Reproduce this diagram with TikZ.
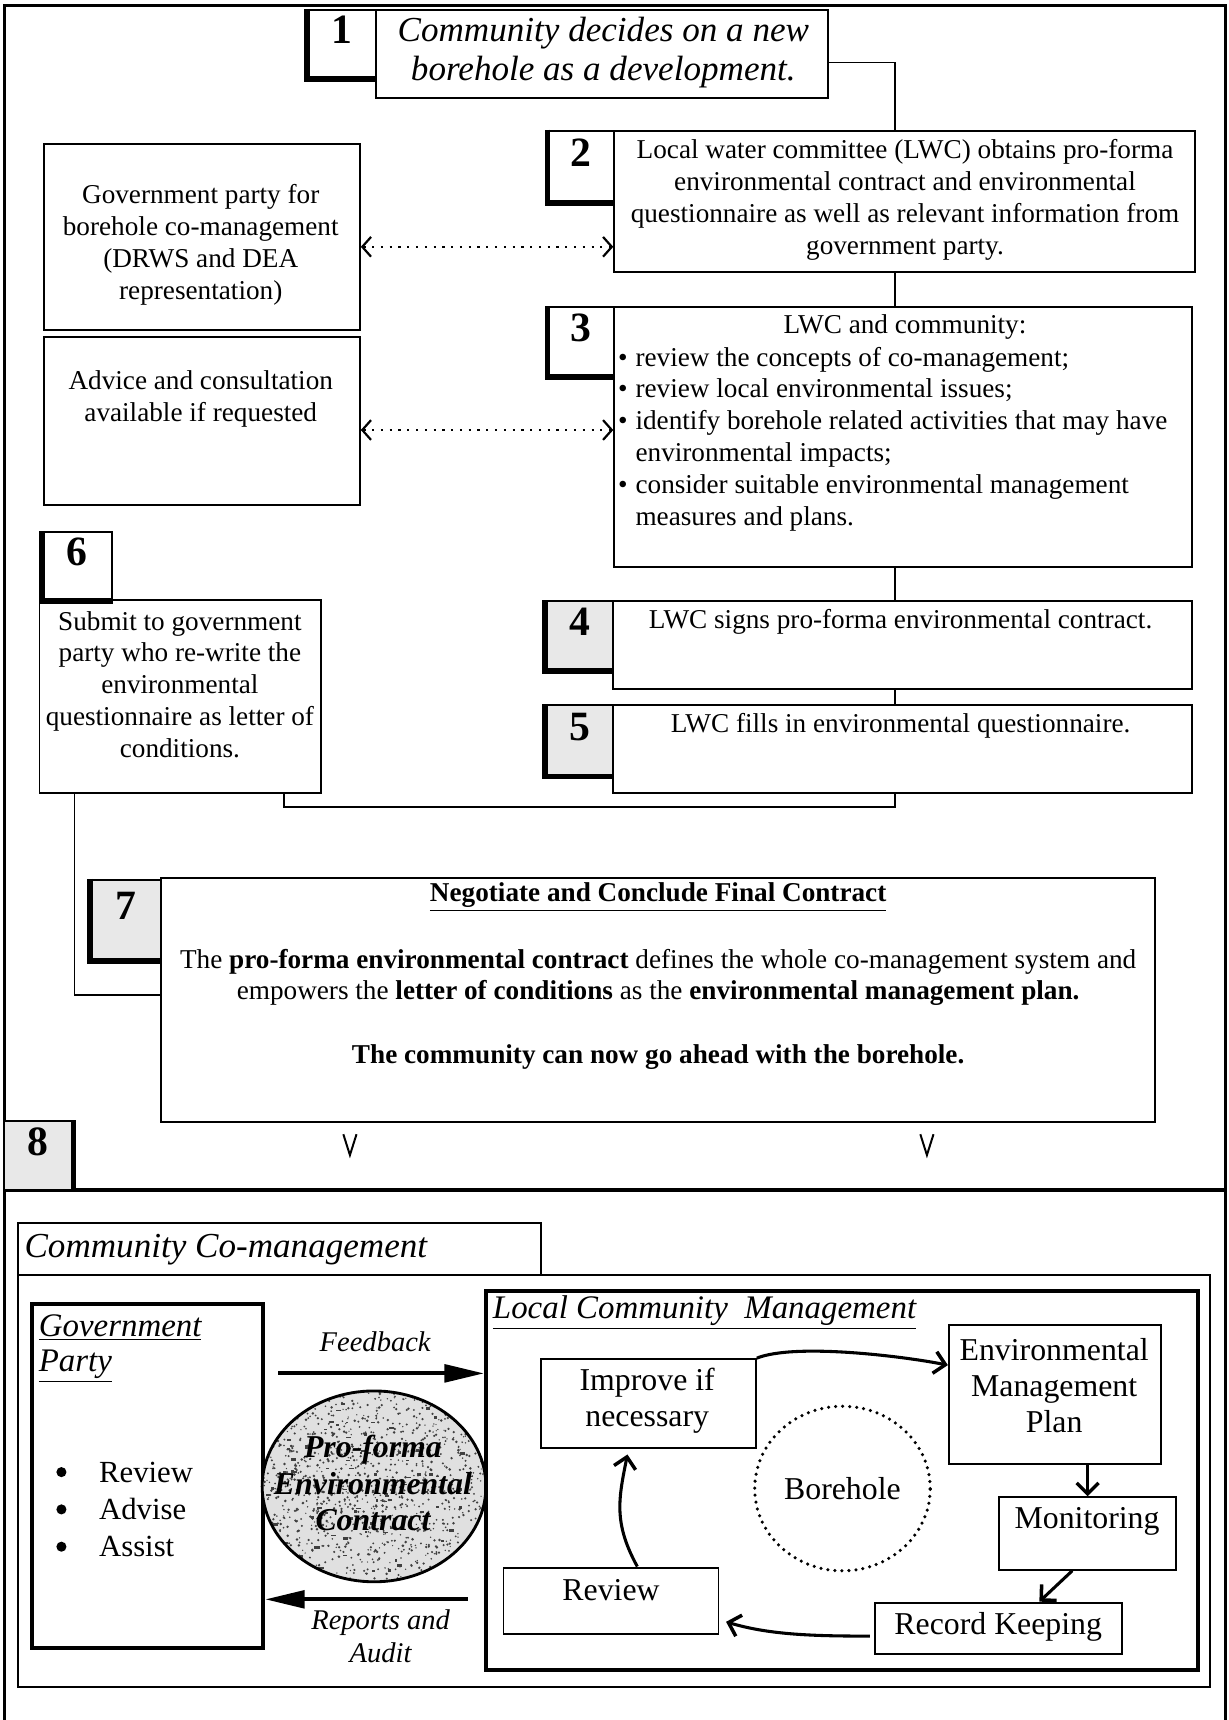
\documentclass[tikz,border=0pt]{standalone}
\usepackage{fontspec}
\setmainfont{Liberation Serif}
\usetikzlibrary{arrows.meta,fit,shapes.geometric,calc}

\newcommand\heavyedge[1]{\draw[line width=2.6pt] (#1.north west) -- (#1.south west) -- (#1.south east);}

\tikzset{
  box/.style={draw, line width=0.9pt, inner sep=0pt},
  numbox/.style={draw, line width=0.9pt, inner sep=0pt, font=\fontsize{19}{19}\selectfont\bfseries},
  speck/.style={fill=black!9},
  txt/.style={font=\fontsize{12.4}{14.5}\selectfont, align=center, inner sep=0pt},
  link/.style={line width=0.8pt},
  dotlink/.style={line width=1pt, dash pattern=on 1pt off 3pt,
    {Straight Barb[length=4pt,width=9pt,line width=1pt]}-{Straight Barb[length=4pt,width=9pt,line width=1pt]}},
  bigarrow/.style={line width=1.8pt, -{Triangle[length=18pt,width=8pt]}},
  cyc/.style={line width=1.4pt, -{Straight Barb[length=5pt,width=10pt,line width=1.6pt]}},
  lbl/.style={font=\fontsize{13}{15}\selectfont\itshape, align=center, inner sep=0pt},
  cyctxt/.style={font=\fontsize{14.5}{16.5}\selectfont, align=center, inner sep=0pt},
  dot/.style={circle, fill, inner sep=0pt, minimum size=4.6pt},
}

\begin{document}
\begin{tikzpicture}[x=0.5pt, y=-0.5pt]
\useasboundingbox (0,0) rectangle (1120,1568);

% outer frame and divider above section 8
\draw[line width=1.1pt] (4,1568) -- (4,5) -- (1117,5) -- (1117,1568);
\draw[line width=1.6pt] (4,1085) -- (1117,1085);

% ---------- step 1 ----------
\node[numbox, fit={(281,9) (343,71)}] (n1) {1};
\heavyedge{n1}
\node[box, fit={(343,9) (755,89)}] (t1) {};
\node[txt, font=\fontsize{16}{17.5}\selectfont\itshape] (t1text) at (550,48)
  {Community decides on a new\\borehole as a development.};

% ---------- step 2 ----------
\node[numbox, fit={(500,119) (560,184)}] (n2) {2};
\heavyedge{n2}
\node[box, fit={(560,119) (1089,248)}] (t2) {};
\node[txt] (t2text) at (825,182)
  {Local water committee (LWC) obtains pro-forma\\environmental contract and environmental\\questionnaire as well as relevant information from\\government party.};

% ---------- government party panel ----------
\node[box, fit={(40,131) (328,301)}] (g1) {};
\node[box, fit={(40,307) (328,460)}] (g2) {};
\node[txt] (g1text) at (183,223)
  {Government party for\\borehole co-management\\(DRWS and DEA\\representation)};
\node[txt] (g2text) at (183,364) {Advice and consultation\\available if requested};

% ---------- step 3 ----------
\node[numbox, fit={(500,280) (560,343)}] (n3) {3};
\heavyedge{n3}
\node[box, fit={(560,280) (1087,517)}] (t3) {};
\node[txt] (t3title) at (825,298) {LWC and community:};
\node[txt, anchor=north west, align=left] (t3list) at (563,313)
  {\begin{tabular}{@{}p{8pt}@{}l@{}}
   • & review the concepts of co-management;\\
   • & review local environmental issues;\\
   • & identify borehole related activities that may have\\
     & environmental impacts;\\
   • & consider suitable environmental management\\
     & measures and plans.
   \end{tabular}};

% ---------- steps 4 and 5 ----------
\node[numbox, speck, fit={(498,548) (559,611)}] (n4) {4};
\heavyedge{n4}
\node[box, fit={(559,548) (1087,628)}] (t4) {};
\node[txt] (t4text) at (821,567) {LWC signs pro-forma environmental contract.};

\node[numbox, speck, fit={(498,643) (559,707)}] (n5) {5};
\heavyedge{n5}
\node[box, fit={(559,643) (1087,723)}] (t5) {};
\node[txt] (t5text) at (821,662) {LWC fills in environmental questionnaire.};

% ---------- step 6 ----------
\node[numbox, fit={(39,485) (102,547)}] (n6) {6};
\heavyedge{n6}
\node[box, fit={(36,547) (293,723)}] (t6) {};
\node[txt] (t6text) at (164,624)
  {Submit to government\\party who re-write the\\environmental\\questionnaire as letter of\\conditions.};

% ---------- step 7 ----------
\node[numbox, speck, fit={(83,802) (147,875)}] (n7) {7};
\heavyedge{n7}
\node[box, fit={(147,800) (1053,1023)}] (t7) {};
\node[txt, font=\fontsize{12.4}{14.5}\selectfont\bfseries] (t7title) at (600,818)
  {\underline{Negotiate and Conclude Final Contract}};
\node[txt] (t7body) at (600,891)
  {The \textbf{pro-forma environmental contract} defines the whole co-management system and\\
   empowers the \textbf{letter of conditions} as the \textbf{environmental management plan.}};
\node[txt, font=\fontsize{12.4}{14.5}\selectfont\bfseries] (t7last) at (600,964)
  {The community can now go ahead with the borehole.};

% ---------- step 8 marker ----------
\node[numbox, speck, fit={(4,1022) (66,1085)}] (n8) {8};
\draw[line width=2.6pt] (n8.north east) -- (n8.south east);
\draw[line width=0.9pt] (313,1034) -- (319,1053) -- (325,1034);
\draw[line width=0.9pt] (839,1034) -- (845,1053) -- (851,1034);

% ---------- connectors of the upper flow ----------
\coordinate (spine) at (816,0);
\draw[link] ($(t1.east)+(0,8)$) -| (t2.north -| spine);
\draw[link] (t2.south -| spine) -- (t3.north -| spine);
\draw[link] (t3.south -| spine) -- (t4.north -| spine);
\draw[link] (t4.south -| spine) -- (t5.north -| spine);
\coordinate (j5) at (259,736);
\draw[link] (t5.south -| spine) |- (j5) -- (t6.south -| j5);
\coordinate (j6) at (68,907);
\draw[link] (t6.south -| j6) |- (t7.west |- j6);

\coordinate (d1) at (0,225);
\draw[dotlink] (g1.east |- d1) -- (t2.west |- d1);
\coordinate (d2) at (0,392);
\draw[dotlink] (g2.east |- d2) -- (t3.west |- d2);

% ---------- community co-management ----------
\node[box, fit={(16,1115) (493,1162)}] (cctab) {};
\node[box, fit={(16,1162) (1103,1538)}] (ccbox) {};
\node[anchor=west, inner sep=0pt, font=\fontsize{16}{16}\selectfont\itshape] (cctitle) at (22,1139)
  {Community Co-management};

\node[box, line width=1.8pt, fit={(29,1189) (240,1502)}] (gov) {};
\node[anchor=north west, inner sep=0pt, align=left, font=\fontsize{15}{16}\selectfont\itshape] (govtitle) at (35,1198)
  {\underline{Government}\\\underline{Party}};
\node[anchor=west, inner sep=0pt, align=left, font=\fontsize{14}{17}\selectfont] (govlist) at (90,1376)
  {Review\\Advise\\Assist};
\node[dot] (b1) at (56,1342) {};
\node[dot] (b2) at (56,1376) {};
\node[dot] (b3) at (56,1410) {};

% contract seal
\begin{scope}
  \clip (341,1355) ellipse [x radius=51pt, y radius=43.5pt];
  \fill[black!12] (341,1355) ellipse [x radius=51pt, y radius=43.5pt];
  \pgfmathsetseed{42}
  \foreach \i in {1,...,1200} {
    \fill[black!75] ({341+102*rand},{1355+87*rand}) circle [radius={0.3pt+0.35pt*rnd}];
  }
  \foreach \i in {1,...,110} {
    \fill[black!75] ({341+102*rand},{1355+87*rand}) rectangle ++({2+3*rnd},{1+2*rnd});
  }
\end{scope}
\node[draw, ellipse, line width=1.3pt, minimum width=102pt, minimum height=87pt, inner sep=0pt] (pfc) at (341,1355) {};
\node[font=\fontsize{14.5}{16.5}\selectfont\bfseries\itshape, align=center, inner sep=0pt] (pfctext) at (340,1352)
  {Pro-forma\\Environmental\\Contract};

\node[box, line width=1.8pt, fit={(443,1177) (1092,1522)}] (lcm) {};
\node[anchor=west, inner sep=0pt, font=\fontsize{15}{16}\selectfont\itshape] (lcmtitle) at (449,1197)
  {\underline{Local Community\ \ Management}};

\coordinate (fby) at (0,1252);
\draw[bigarrow] ($(gov.east |- fby)+(12,0)$) -- (lcm.west |- fby);
\coordinate (ray) at (0,1458);
\draw[bigarrow] ($(lcm.west |- ray)+(-15,0)$) -- (gov.east |- ray);
\node[lbl] (fbl) at (342,1223) {Feedback};
\node[lbl] (ral) at (347,1492) {Reports and\\Audit};

% management cycle
\node[box, fit={(493,1239) (689,1320)}] (imp) {};
\node[cyctxt] (imptext) at (590,1277) {Improve if\\necessary};
\node[box, fit={(865,1208) (1058,1335)}] (emp) {};
\node[cyctxt] (emptext) at (961,1263) {Environmental\\Management\\Plan};
\node[box, fit={(911,1365) (1072,1431)}] (mon) {};
\node[cyctxt] (montext) at (991,1387) {Monitoring};
\node[box, fit={(798,1461) (1023,1508)}] (rec) {};
\node[cyctxt] (rectext) at (910,1483) {Record Keeping};
\node[box, fit={(459,1429) (655,1490)}] (rev) {};
\node[cyctxt] (revtext) at (557,1450) {Review};
\node[draw, ellipse, line width=1.6pt, dash pattern=on 0pt off 3.2pt, line cap=round,
      minimum width=80pt, minimum height=75pt, inner sep=0pt, cyctxt] (bh) at (768,1357) {Borehole};

\draw[cyc] (imp.north east) .. controls +(35,-14) and +(-40,-8) .. ($(emp.west)+(0,-27)$);
\draw[cyc] (mon.north |- emp.south) -- (mon.north);
\draw[cyc] ($(mon.south)+(-14,0)$) -- ($(rec.north)+(37,0)$);
\draw[cyc] ($(rec.west)+(-4,7)$) .. controls +(-50,0) and +(40,12) .. ($(rev.east)+(6,19)$);
\draw[cyc] ($(rev.north)+(24,0)$) .. controls +(-22,-40) and +(-8,40) .. ($(imp.south)+(-19,5)$);

\end{tikzpicture}
\end{document}
